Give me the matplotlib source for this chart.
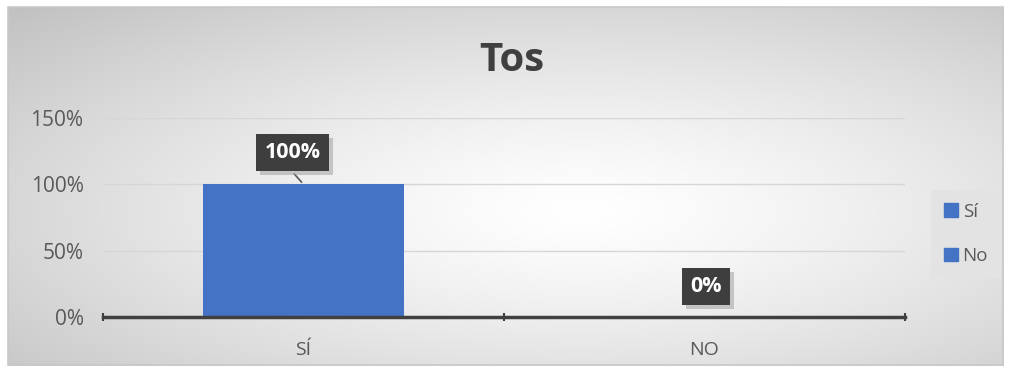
import numpy as np
import matplotlib
matplotlib.use("Agg")
import matplotlib.pyplot as plt
import matplotlib.patheffects as pe
from matplotlib.patches import Rectangle, Patch
from matplotlib.ticker import PercentFormatter

# datos
categorias = ["SÍ", "NO"]
valores = [1.00, 0.00]
etiquetas = ["100%", "0%"]
leyenda = ["Sí", "No"]
titulo = "Tos"

azul = "#4472c4"
gris_texto = "#595959"

plt.rcParams["font.family"] = ["Open Sans", "DejaVu Sans"]

W, H = 1010, 372
fig = plt.figure(figsize=(W / 100, H / 100), dpi=100)

# fondo con degradado radial y marco
bg = fig.add_axes([0, 0, 1, 1])
yy, xx = np.mgrid[0:H, 0:W]
d = np.sqrt(((xx - 580) / 560.0) ** 2 + ((yy - 210) / 200.0) ** 2) / np.sqrt(2)
c = 1 - 0.24 * np.clip(d, 0, 1) ** 1.3
img = np.dstack([c, c, c])
mask = (xx < 8) | (xx > 1003) | (yy < 7) | (yy > 365)
img[mask] = 1.0
bg.imshow(img, extent=(0, W, H, 0), aspect="auto")
bg.add_patch(Rectangle((8, 7), 995, 358, fill=False, ec="#c8c8c8", lw=1.2))
bg.set_xlim(0, W)
bg.set_ylim(H, 0)
bg.axis("off")

# área del gráfico
ax = fig.add_axes([103 / W, 1 - 317 / H, (905 - 103) / W, (317 - 118) / H])
ax.patch.set_alpha(0)
x = np.arange(len(categorias))
ax.bar(x, valores, width=0.5, color=azul, zorder=2)
ax.set_xlim(-0.5, 1.5)
ax.set_ylim(0, 1.5)
ax.set_yticks([0, 0.5, 1.0, 1.5])
ax.yaxis.set_major_formatter(PercentFormatter(1.0, decimals=0))
ax.grid(axis="y", color="#d6d6d6", lw=1, zorder=0)
ax.set_xticks(x)
ax.set_xticklabels(categorias)
ax.set_xticks([-0.5, 0.5, 1.5], minor=True)
ax.tick_params(axis="x", which="major", length=0, pad=17, labelsize=14, labelcolor=gris_texto)
ax.tick_params(axis="x", which="minor", length=6, width=1.5, color="#404040", direction="inout")
ax.tick_params(axis="y", length=0, pad=14, labelsize=15, labelcolor=gris_texto)
for s in ["top", "right", "left"]:
    ax.spines[s].set_visible(False)
ax.spines["bottom"].set_color("#404040")
ax.spines["bottom"].set_linewidth(2.5)
ax.spines["bottom"].set_zorder(3)

# etiquetas de datos con sombra
offsets = [(-8, 23), (1, 22)]
sombra = [pe.withSimplePatchShadow(offset=(3, -3), shadow_rgbFace="#9a9a9a", alpha=0.5)]
for xi, v, t, (dx, dy) in zip(x, valores, etiquetas, offsets):
    if v > 0:
        ax.annotate("", xy=(xi, v), xytext=(dx, dy - 14), textcoords="offset points",
                    arrowprops=dict(arrowstyle="-", color="#595959", lw=1.2), zorder=4)
    txt = ax.annotate(t, xy=(xi, v), xytext=(dx, dy), textcoords="offset points",
                      ha="center", va="center", fontsize=15.5, fontweight="bold", color="white",
                      bbox=dict(boxstyle="square,pad=0.38", fc="#3e3e3e", ec="none"), zorder=5)
    txt.get_bbox_patch().set_path_effects(sombra)

ax.set_title(titulo, fontsize=29, fontweight="bold", color="#404040", pad=34, x=0.51)

handles = [Patch(color=azul) for _ in leyenda]
fig.legend(handles, leyenda, loc="center", bbox_to_anchor=(966 / W, 1 - 234 / H),
           frameon=True, facecolor="#e3e3e3", edgecolor="none", framealpha=1,
           fontsize=13.5, labelcolor=gris_texto, handlelength=0.75, handleheight=0.75,
           handletextpad=0.25, labelspacing=1.4, borderpad=0.7, fancybox=False)

fig.savefig("out.png", dpi=100)
